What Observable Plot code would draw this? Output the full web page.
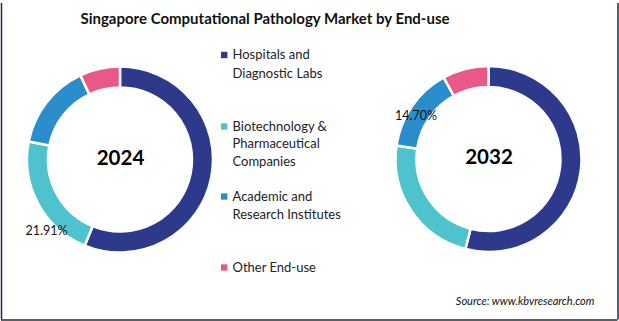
<!DOCTYPE html>
<html>
<head>
<meta charset="utf-8">
<script src="https://cdn.jsdelivr.net/npm/d3@7"></script>
<script src="https://cdn.jsdelivr.net/npm/@observablehq/plot@0.6"></script>
<style>
  html, body { margin: 0; padding: 0; background: #fff; }
  #chart svg { display: block; }
</style>
</head>
<body>
<div id="chart"></div>
<script>
// ---- data ----
const segments = [
  "Hospitals and Diagnostic Labs",
  "Biotechnology & Pharmaceutical Companies",
  "Academic and Research Institutes",
  "Other End-use"
];
const legendLines = [
  ["Hospitals and", "Diagnostic Labs"],
  ["Biotechnology &", "Pharmaceutical", "Companies"],
  ["Academic and", "Research Institutes"],
  ["Other End-use"]
];
const years = ["2024", "2032"];
const share2024 = [56.2, 21.91, 14.9, 7.0];
const share2032 = [54.0, 23.3, 14.70, 8.0];
const shownLabels = [
  {year: "2024", segment: "Biotechnology & Pharmaceutical Companies", text: "21.91%"},
  {year: "2032", segment: "Academic and Research Institutes", text: "14.70%"}
];
const colors = ["#2d3a8c", "#4ec3cd", "#2a8ecd", "#ea5889"];
const title = "Singapore Computational Pathology Market by End-use";
const source = "Source: www.kbvresearch.com";

// ---- layout ----
const W = 619, H = 321;
const centers = {"2024": [120, 159.5], "2032": [488.5, 159]};
const rOuter = 93, rInner = 72;
const font = "Lato, 'Open Sans', sans-serif";

const shares = {"2024": share2024, "2032": share2032};
const pie = d3.pie().sort(null).value(d => d.value);
const slices = years.flatMap(year => {
  const arr = segments.map((s, i) => ({year, segment: s, value: shares[year][i], color: colors[i]}));
  return pie(arr).map(p => ({...p.data, startAngle: p.startAngle, endAngle: p.endAngle}));
});

// label positions (outside-ish, along the ring)
const labelData = shownLabels.map(l => {
  const s = slices.find(d => d.year === l.year && d.segment === l.segment);
  return {...l, ...s};
});

const arcGen = d3.arc().innerRadius(rInner).outerRadius(rOuter);

function donutMark(index, scales) {
  const g = d3.create("svg:g");
  for (const d of slices) {
    const [cx, cy] = centers[d.year];
    g.append("path")
      .attr("transform", `translate(${scales.x(cx)},${scales.y(cy)})`)
      .attr("d", arcGen({startAngle: d.startAngle, endAngle: d.endAngle}))
      .attr("fill", d.color)
      .attr("stroke", "#fff")
      .attr("stroke-width", 2.5)
      .attr("stroke-linejoin", "miter");
  }
  return g.node();
}

// legend rows
const legendRowsY = [[54.5, 73], [126, 143.5, 161], [196, 214], [267]];
const legendSwatches = segments.map((s, i) => ({segment: s, color: colors[i], x: 223.7, y: legendRowsY[i][0]}));
const legendTexts = legendLines.flatMap((lines, i) => lines.map((t, j) => ({text: t, x: 232, y: legendRowsY[i][j]})));

const chart = Plot.plot({
  width: W,
  height: H,
  margin: 0,
  style: {background: "#fff", fontFamily: font},
  x: {domain: [0, W], range: [0, W], axis: null},
  y: {domain: [0, H], range: [0, H], axis: null},
  marks: [
    donutMark,
    // title
    Plot.text([title], {x: 264.5, y: 19, text: d => d, fontSize: 15, fontWeight: "bold", fill: "#111", fontFamily: font}),
    // year labels
    Plot.text(years, {x: d => centers[d][0], y: d => centers[d][1] - 2, text: d => d, fontSize: 20.5, fontWeight: "bold", fill: "#000", fontFamily: font}),
    // percent labels
    Plot.text(labelData.filter(d => d.year === "2024"), {x: 46, y: 230, text: "text", fontSize: 12.5, fill: "#111", fontFamily: font}),
    Plot.text(labelData.filter(d => d.year === "2032"), {x: 415.5, y: 115, text: "text", fontSize: 12.5, fill: "#111", fontFamily: font}),
    // legend
    Plot.dot(legendSwatches, {x: "x", y: "y", symbol: "square", r: 3.6, fill: "color", stroke: null}),
    Plot.text(legendTexts, {x: "x", y: "y", text: "text", textAnchor: "start", fontSize: 13, fill: "#222", fontFamily: font}),
    // source
    Plot.text([source], {x: 594, y: 301, text: d => d, textAnchor: "end", fontSize: 11, fontStyle: "italic", fill: "#111", fontFamily: font}),
    // border
    Plot.ruleX([1, 617.5], {y1: 3, y2: 319.5, stroke: "#1e2b3a", strokeWidth: 1.5}),
    Plot.ruleY([319.5], {x1: 1, x2: 617.5, stroke: "#1e2b3a", strokeWidth: 1.5})
  ]
});
document.getElementById("chart").appendChild(chart);
</script>
</body>
</html>
